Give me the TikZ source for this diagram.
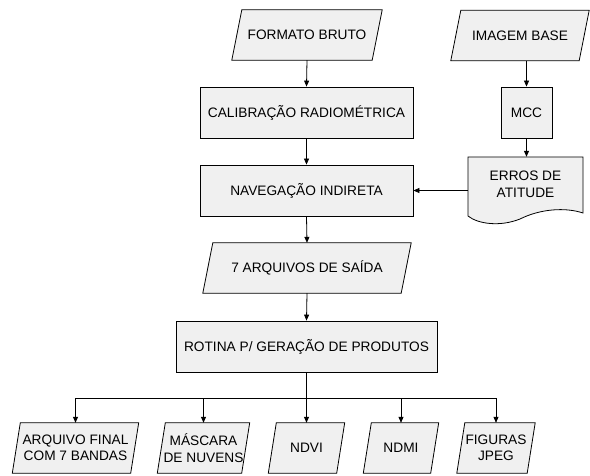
\documentclass[tikz,border=0pt]{standalone}
\usepackage{fontspec}
\setmainfont{Liberation Sans}
\usetikzlibrary{arrows.meta,calc}
\pgfdeclarelayer{bg}
\pgfsetlayers{bg,main}
\definecolor{boxfill}{RGB}{240,240,240}
\newcommand\mypara[2]{%
  \begin{pgfonlayer}{bg}
  \draw[pshape] ($(#1.south west)+(-#2,0)$) -- ($(#1.south east)+(-#2,0)$) --
    ($(#1.north east)+(#2,0)$) -- ($(#1.north west)+(#2,0)$) -- cycle;
  \end{pgfonlayer}}
\begin{document}
\begin{tikzpicture}[x=1pt,y=-1pt,
  every node/.style={font=\fontsize{13.7}{16.5}\selectfont, align=center, inner sep=0pt},
  rbox/.style={draw=black, fill=boxfill, line width=0.8pt, minimum height=51pt},
  pbox/.style={minimum height=50pt},
  pshape/.style={draw=black, fill=boxfill, line width=0.8pt, line join=miter},
  arr/.style={line width=0.8pt, -{Triangle[length=6pt,width=5pt]}},
  ln/.style={line width=0.8pt}]
\begin{pgfonlayer}{bg}
\fill[white] (0,0) rectangle (590,476);
\end{pgfonlayer}
\useasboundingbox (0,0) rectangle (590,476);

% top row
\node[pbox, minimum width=140pt] (fb) at (307,35) {FORMATO BRUTO};
\mypara{fb}{5}
\node[pbox, minimum width=128pt] (ib) at (520,35.5) {IMAGEM BASE};
\mypara{ib}{5}

\node[rbox, minimum width=213pt] (cal) at (306.5,112.5) {CALIBRAÇÃO RADIOMÉTRICA};
\node[rbox, minimum width=51pt] (mcc) at (526.5,112.5) {MCC};
\node[rbox, minimum width=213pt] (nav) at (306.5,190.5) {NAVEGAÇÃO INDIRETA};

% document shape
\node[minimum width=115pt, minimum height=55pt] (err) at (525.5,184.5) {ERROS DE\\ATITUDE};
\begin{pgfonlayer}{bg}
\draw[pshape] (468,216) -- (468,157) -- (583,157) -- (583,213)
  .. controls (565,207) and (540,209) .. (520,219)
  .. controls (500,227) and (478,224) .. (468,216) -- cycle;
\end{pgfonlayer}

\node[pbox, minimum width=198pt] (sai) at (307,268) {7 ARQUIVOS DE SAÍDA};
\mypara{sai}{5}
\node[rbox, minimum width=261pt] (rot) at (306.5,346.5) {ROTINA P/ GERAÇÃO DE PRODUTOS};

% bottom row
\node[pbox, minimum width=118pt] (p1) at (75.5,448) {ARQUIVO FINAL\\COM 7 BANDAS};
\mypara{p1}{4}
\node[pbox, minimum width=84pt] (p2) at (203.5,448) {MÁSCARA\\DE NUVENS};
\mypara{p2}{4}
\node[pbox, minimum width=68pt] (p3) at (306.5,448) {NDVI};
\mypara{p3}{4}
\node[pbox, minimum width=67pt] (p4) at (401,448) {NDMI};
\mypara{p4}{4}
\node[pbox, minimum width=70pt] (p5) at (496,448) {FIGURAS\\JPEG};
\mypara{p5}{4}
\coordinate (bus) at (306.5,398);

% connectors
\draw[arr] (fb.south) -- (cal.north);
\draw[arr] (cal.south) -- (nav.north);
\draw[arr] (ib.south -| mcc.north) -- (mcc.north);
\draw[arr] (mcc.south) -- (mcc.south |- err.north);
\draw[arr] (err.west |- nav.east) -- (nav.east);
\draw[arr] (nav.south) -- (sai.north);
\draw[arr] (sai.south) -- (rot.north);
\draw[arr] (rot.south) -- (p3.north);
\draw[ln] (p1.north |- bus) -- (p5.north |- bus);
\draw[arr] (p1.north |- bus) -- (p1.north);
\draw[arr] (p2.north |- bus) -- (p2.north);
\draw[arr] (p4.north |- bus) -- (p4.north);
\draw[arr] (p5.north |- bus) -- (p5.north);
\end{tikzpicture}
\end{document}
